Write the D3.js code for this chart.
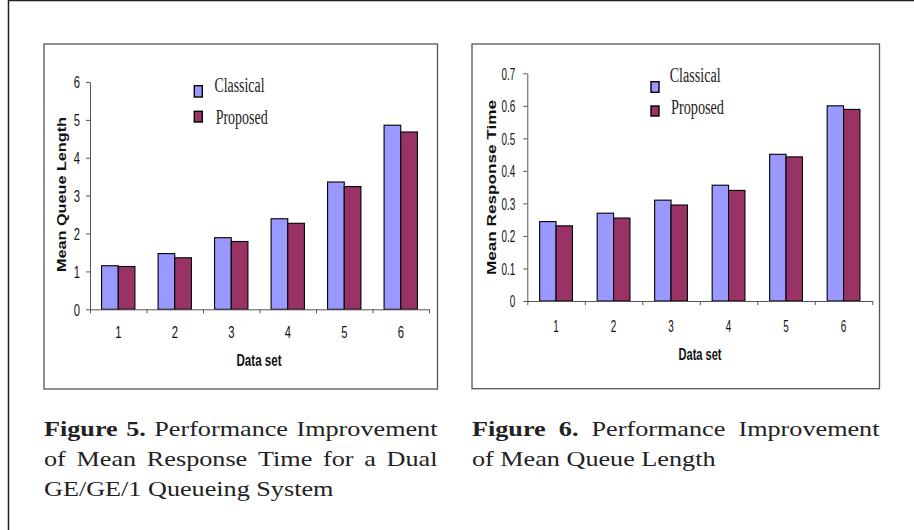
<!DOCTYPE html>
<html><head><meta charset="utf-8">
<script src="https://cdn.jsdelivr.net/npm/d3@7"></script>
<style>
html,body{margin:0;padding:0;background:#fff;}
svg{display:block;}
</style></head>
<body>
<svg id="c" width="914" height="530"></svg>
<script>
// ---------- data ----------
const categories = ["1","2","3","4","5","6"];
const seriesNames = ["Classical","Proposed"];
const seriesColors = ["#9999FF","#993366"];
// Figure 5 (left): Mean Queue Length
const queueClassical = [1.15, 1.47, 1.89, 2.39, 3.36, 4.86];
const queueProposed  = [1.13, 1.36, 1.79, 2.27, 3.24, 4.68];
const queueTicks = [0,1,2,3,4,5,6];
// Figure 6 (right): Mean Response Time
const respClassical = [0.244, 0.270, 0.310, 0.356, 0.451, 0.600];
const respProposed  = [0.231, 0.255, 0.295, 0.340, 0.443, 0.589];
const respTicks = [0,0.1,0.2,0.3,0.4,0.5,0.6,0.7];
const xTitle = "Data set";
const yTitleLeft = "Mean Queue Length";
const yTitleRight = "Mean Response Time";
const captionLeft = ["Figure 5. Performance Improvement", "of Mean Response Time for a Dual", "GE/GE/1 Queueing System"];
const captionRight = ["Figure 6. Performance Improvement", "of Mean Queue Length"];

const svg = d3.select("#c");
const SANS = "'Liberation Sans', Arial, sans-serif";
const SERIF = "'Liberation Serif', 'Times New Roman', serif";

function squeeze(sel, k){
  sel.each(function(){
    const w = this.getComputedTextLength();
    if (w > 0) { this.setAttribute("textLength", w*k); this.setAttribute("lengthAdjust","spacingAndGlyphs"); }
  });
}

// outer frame
svg.append("line").attr("x1",8.5).attr("y1",0.5).attr("x2",914).attr("y2",0.5).attr("stroke","#222").attr("stroke-width",1.5);
svg.append("line").attr("x1",8.5).attr("y1",0).attr("x2",8.5).attr("y2",530).attr("stroke","#222").attr("stroke-width",1.5);

function chart(o){
  const g = svg.append("g");
  g.append("rect").attr("x",o.box[0]).attr("y",o.box[1]).attr("width",o.box[2]-o.box[0]).attr("height",o.box[3]-o.box[1])
    .attr("fill","none").attr("stroke","#555").attr("stroke-width",1.3);
  const y = d3.scaleLinear().domain([0, o.ymax]).range([o.y0, o.y1]);
  const x = d3.scaleBand().domain(categories).range([o.x0, o.x1]).paddingInner(o.pad).paddingOuter(o.pad/2);
  const xs = d3.scaleBand().domain(seriesNames).range([0, x.bandwidth()]);
  const xl = d3.scaleLinear().domain([0, categories.length]).range([o.x0, o.x1]);

  // bars
  const vals = [o.a, o.b];
  seriesNames.forEach((s, si) => {
    g.append("g").selectAll("rect").data(vals[si]).join("rect")
      .attr("x", (d,i) => x(categories[i]) + xs(s))
      .attr("y", d => y(d))
      .attr("width", xs.bandwidth())
      .attr("height", d => y(0) - y(d))
      .attr("fill", seriesColors[si]).attr("stroke","#000").attr("stroke-width",1.1);
  });

  // y axis
  const ya = g.append("g").attr("transform",`translate(${o.x0},0)`)
    .call(d3.axisLeft(y).tickValues(o.ticks).tickFormat(o.fmt).tickSizeInner(4).tickSizeOuter(0).tickPadding(o.tpad));
  ya.selectAll("path,line").attr("stroke","#555");
  ya.selectAll("text").attr("font-family",SANS).attr("font-size",16.5).attr("fill","#111").attr("dy","0.36em").call(squeeze, o.tk);

  // x axis (boundary ticks)
  const xa = g.append("g").attr("transform",`translate(0,${o.y0})`)
    .call(d3.axisBottom(xl).tickValues(d3.range(categories.length+1)).tickFormat("").tickSizeInner(4).tickSizeOuter(0));
  xa.selectAll("path,line").attr("stroke","#555");
  // category labels
  const xb = g.append("g").attr("transform",`translate(0,${o.y0})`)
    .call(d3.axisBottom(x).tickSize(0).tickPadding(o.xlpad));
  xb.select(".domain").remove();
  xb.selectAll("text").attr("font-family",SANS).attr("font-size",16.5).attr("fill","#111").attr("dy","0.71em").call(squeeze, o.tk);

  // titles
  g.append("text").attr("x", o.xt[0]).attr("y", o.xt[1]).attr("text-anchor","middle")
    .attr("font-family",SANS).attr("font-weight","bold").attr("font-size",16).attr("fill","#111")
    .attr("textLength",o.xt[2]).attr("lengthAdjust","spacingAndGlyphs").text(xTitle);
  g.append("text").attr("transform",`translate(${o.yt[0]},${o.yt[1]}) rotate(-90)`).attr("text-anchor","middle")
    .attr("font-family",SANS).attr("font-weight","bold").attr("font-size",12).attr("fill","#111")
    .attr("textLength",o.yt[2]).attr("lengthAdjust","spacingAndGlyphs").text(o.ytitle);

  // legend
  seriesNames.forEach((s, si) => {
    const L = o.leg[si];
    g.append("rect").attr("x",L[0]).attr("y",L[1]).attr("width",L[2]).attr("height",L[3])
      .attr("fill",seriesColors[si]).attr("stroke","#000").attr("stroke-width",1.4);
    g.append("text").attr("x",L[4]).attr("y",L[5]).attr("font-family",SERIF).attr("font-size",20).attr("fill","#222")
      .attr("textLength",L[6]).attr("lengthAdjust","spacingAndGlyphs").text(s);
  });
}

chart({box:[44,44,437.5,389], x0:90, x1:429, y0:309.3, y1:82, ymax:6, pad:0.41,
  a:queueClassical, b:queueProposed, ticks:queueTicks, fmt:d3.format("d"), tpad:6, tk:0.68, xlpad:17,
  xt:[259,366,45], yt:[66,194.5,155], ytitle:yTitleLeft,
  leg:[[194.3,85.7,8,11.3,214.5,92.3,50],[194.3,111.3,8,10.7,215.7,124,52]]});

chart({box:[472,44,879.5,388.7], x0:527.3, x1:872.3, y0:301, y1:73.3, ymax:0.7, pad:0.43,
  a:respClassical, b:respProposed, ticks:respTicks, fmt:d => d===0 ? "0" : d3.format(".1f")(d), tpad:8, tk:0.6, xlpad:19,
  xt:[700,360,43], yt:[495.5,187.5,175], ytitle:yTitleRight,
  leg:[[651,81.7,8,10.6,669.7,82.3,51],[651,106,8,10,671,114,53]]});

// captions (justified like the document)
function caption(lines, x0, x1, y0, lh){
  const fs = 22, k = 1.19;
  lines.forEach((line, li) => {
    const words = line.split(" ");
    const nodes = words.map((w, wi) => {
      const bold = li === 0 && wi < 2;
      const t = svg.append("text").attr("y", y0 + li*lh).attr("font-family",SERIF).attr("font-size",fs)
        .attr("font-weight", bold ? "bold" : "normal").attr("fill","#222").text(w);
      const wdt = t.node().getComputedTextLength()*k;
      t.attr("textLength", wdt).attr("lengthAdjust","spacingAndGlyphs");
      return {t, wdt};
    });
    const total = d3.sum(nodes, n => n.wdt);
    const last = li === lines.length - 1;
    const gap = last ? fs*0.25*k : (x1 - x0 - total)/(nodes.length - 1);
    let cx = x0;
    nodes.forEach(n => { n.t.attr("x", cx); cx += n.wdt + gap; });
  });
}
caption(captionLeft, 44, 437.5, 436, 30);
caption(captionRight, 472, 879.5, 436, 30);
</script>
</body></html>
